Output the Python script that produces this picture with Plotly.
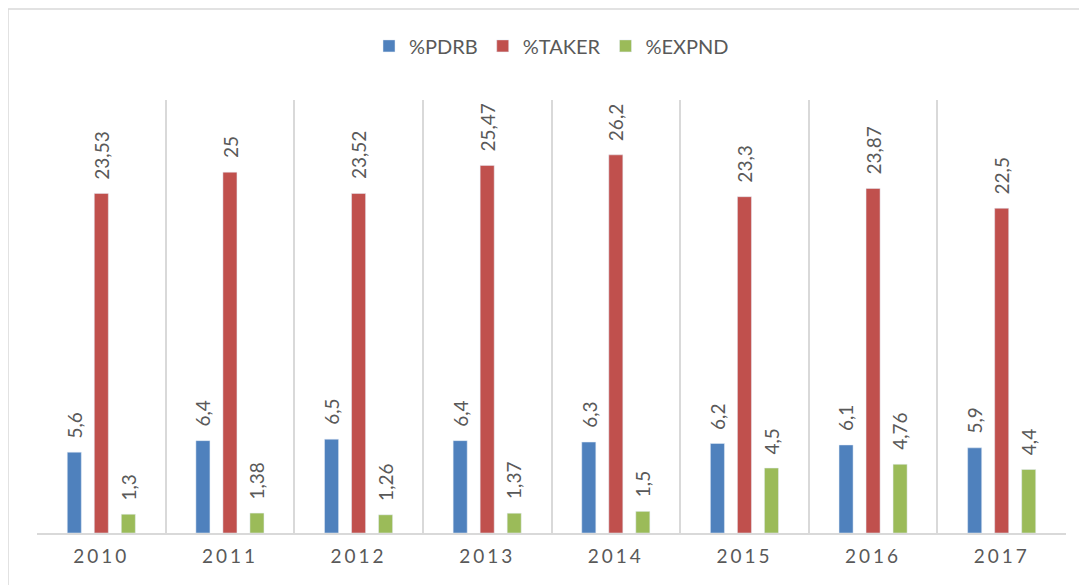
import plotly.graph_objects as go

years = ["2010", "2011", "2012", "2013", "2014", "2015", "2016", "2017"]
pdrb = [5.6, 6.4, 6.5, 6.4, 6.3, 6.2, 6.1, 5.9]
taker = [23.53, 25, 23.52, 25.47, 26.2, 23.3, 23.87, 22.5]
expnd = [1.3, 1.38, 1.26, 1.37, 1.5, 4.5, 4.76, 4.4]

series = [("%PDRB", pdrb, "#4F81BD"), ("%TAKER", taker, "#C0504D"), ("%EXPND", expnd, "#9BBB59")]

def fmt(v):
    return ("%g" % v).replace(".", ",")

FONT = "Lato, 'Open Sans', sans-serif"
GRAY = "#595959"
BARGAP = 0.37
SLOT = (1 - BARGAP) / 3

fig = go.Figure()
annotations = []
for k, (name, vals, color) in enumerate(series):
    fig.add_trace(go.Bar(x=years, y=vals, name=name, marker_color=color))
    off = (k - 1) * SLOT
    for i, v in enumerate(vals):
        annotations.append(dict(
            x=i + off, y=v, xref="x", yref="y", text=fmt(v), showarrow=False,
            textangle=-90, xanchor="center", yanchor="bottom", yshift=12,
            font=dict(family=FONT, size=19, color=GRAY)))

W, H = 1079, 577
L, R, T, B = 29, 21, 92, 52
pw = W - L - R
ph = H - T - B

fig.update_layout(
    width=W, height=H,
    margin=dict(l=L, r=R, t=T, b=B),
    paper_bgcolor="white", plot_bgcolor="white",
    barmode="group", bargap=BARGAP, bargroupgap=0.48,
    font=dict(family=FONT, color=GRAY),
    showlegend=True,
    legend=dict(orientation="h", x=0.5, xanchor="center", y=1.125, yanchor="middle",
                font=dict(family=FONT, size=20, color=GRAY), itemwidth=30,
                traceorder="normal"),
    xaxis=dict(type="category", tickson="boundaries", showgrid=True, gridcolor="#D9D9D9",
               gridwidth=1.5, showline=True, linecolor="#D9D9D9", linewidth=1.5, ticks="",
               tickmode="array", tickvals=years, ticklabelstandoff=5,
               ticktext=['<span style="letter-spacing:3px">%s</span>' % y for y in years],
               tickfont=dict(family=FONT, size=19, color=GRAY)),
    yaxis=dict(range=[0, 30], showgrid=False, showticklabels=False, zeroline=False,
               showline=False, ticks=""),
    annotations=annotations,
    shapes=[dict(type="rect", xref="paper", yref="paper",
                 x0=(0 - L) / pw, x1=(W - 2 - L) / pw,
                 y0=-(B + 40) / ph, y1=(ph + T - 1) / ph,
                 line=dict(color="#D9D9D9", width=1.5), fillcolor="rgba(0,0,0,0)", layer="below")],
)

fig.write_html("out.html")
